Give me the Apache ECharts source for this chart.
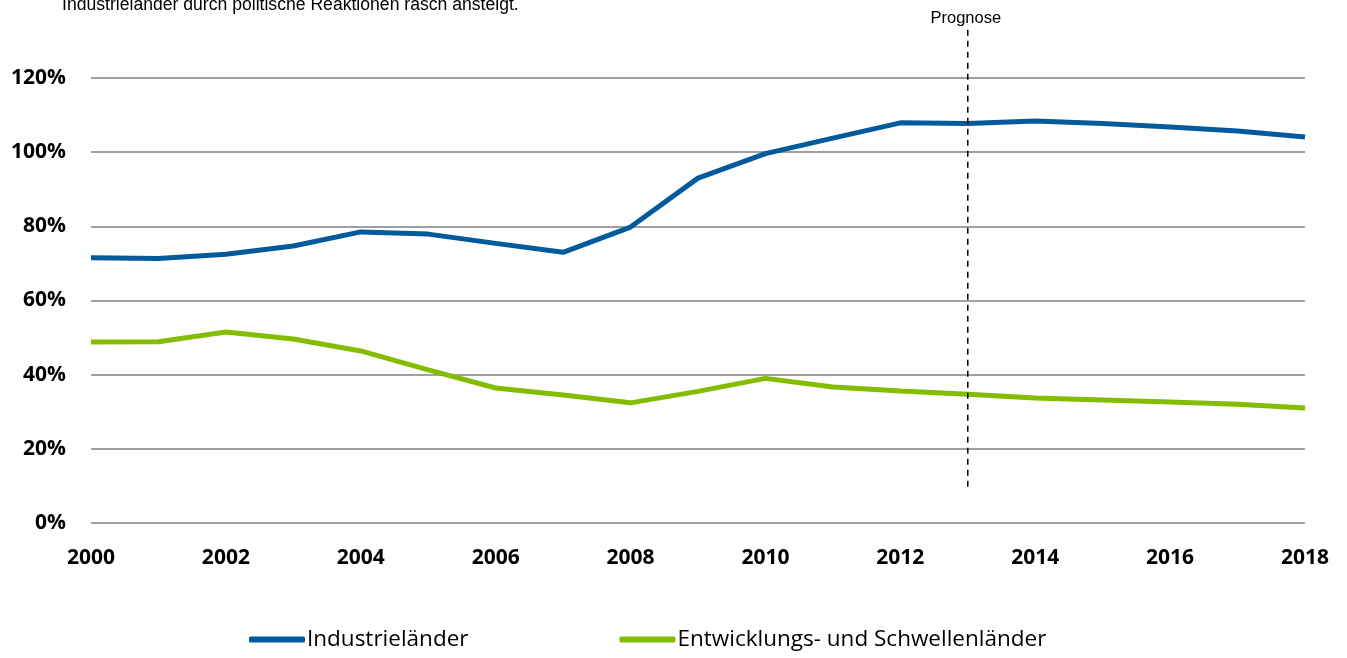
<!DOCTYPE html>
<html>
<head>
<meta charset="utf-8">
<script src="https://cdn.jsdelivr.net/npm/echarts@6/dist/echarts.min.js"></script>
<style>
  html, body { margin: 0; padding: 0; background: #fff; }
  #main { width: 1347px; height: 658px; }
</style>
</head>
<body>
<div id="main"></div>
<script>
const years = ['2000','2001','2002','2003','2004','2005','2006','2007','2008','2009',
  '2010','2011','2012','2013','2014','2015','2016','2017','2018']
const industrie = [71.5, 71.3, 72.5, 74.7, 78.5, 77.9, 75.4, 73.0, 79.8, 93.0,
  99.6, 103.8, 107.9, 107.7, 108.4, 107.7, 106.8, 105.7, 104.1]
const schwellen = [48.8, 48.9, 51.5, 49.6, 46.4, 41.3, 36.4, 34.5, 32.4, 35.5,
  39.0, 36.7, 35.6, 34.7, 33.7, 33.2, 32.6, 32.0, 31.0]
const yTicks = [0, 20, 40, 60, 80, 100, 120]
// Prognose-Linie
const prognoseYear = '2013'
const prognoseRange = [9.5, 133]

const blue = '#005a9c'
const green = '#84bd00'
const labelFont = { fontFamily: 'Open Sans', fontWeight: 'bold', fontSize: 21, color: '#000' }

const chart = echarts.init(document.getElementById('main'))
chart.setOption({
  animation: false,
  title: {
    text: 'Industrieländer durch politische Reaktionen rasch ansteigt.',
    left: 57,
    top: -9,
    textStyle: { fontFamily: 'Liberation Sans', fontSize: 17.6, fontWeight: 'normal', color: '#000' }
  },
  grid: { left: 91, right: 42, top: 78, bottom: 135 },
  legend: {
    bottom: 2,
    left: 244,
    icon: 'roundRect',
    itemWidth: 56,
    itemHeight: 6,
    itemGap: 151,
    textStyle: { fontFamily: 'Open Sans', fontSize: 22.5, color: '#000', padding: [0, 0, 0, -3] },
    data: ['Industrieländer', 'Entwicklungs- und Schwellenländer']
  },
  xAxis: {
    type: 'category',
    data: years,
    boundaryGap: false,
    axisLine: { show: false },
    axisTick: { show: false },
    axisLabel: Object.assign({ interval: 1, margin: 25 }, labelFont)
  },
  yAxis: {
    type: 'value',
    min: yTicks[0],
    max: yTicks[yTicks.length - 1],
    interval: 20,
    axisLine: { show: false },
    axisTick: { show: false },
    splitLine: { lineStyle: { color: '#7f7f86', width: 1.5 } },
    axisLabel: Object.assign({ margin: 25, formatter: v => v + '%' }, labelFont)
  },
  series: [
    {
      name: 'Industrieländer',
      type: 'line',
      data: industrie,
      symbol: 'none',
      lineStyle: { color: blue, width: 5 },
      itemStyle: { color: blue }
    },
    {
      name: 'Entwicklungs- und Schwellenländer',
      type: 'line',
      data: schwellen,
      symbol: 'none',
      lineStyle: { color: green, width: 5 },
      itemStyle: { color: green }
    }
  ]
})

// gestrichelte Prognose-Linie über die Achsen der Grafik gesetzt
const px = chart.convertToPixel({ xAxisIndex: 0 }, prognoseYear)
const pyLow = chart.convertToPixel({ yAxisIndex: 0 }, prognoseRange[0])
const pyHigh = chart.convertToPixel({ yAxisIndex: 0 }, prognoseRange[1])
chart.setOption({
  graphic: [
    {
      type: 'line',
      shape: { x1: px, y1: pyHigh, x2: px, y2: pyLow },
      style: { stroke: '#000', lineWidth: 1.5, lineDash: [6, 5] },
      z: 10
    },
    {
      type: 'text',
      x: px - 2,
      y: pyHigh - 3,
      style: {
        text: 'Prognose',
        fontFamily: 'Liberation Sans',
        fontSize: 16.5,
        fill: '#000',
        align: 'center',
        verticalAlign: 'bottom'
      }
    }
  ]
})
</script>
</body>
</html>
